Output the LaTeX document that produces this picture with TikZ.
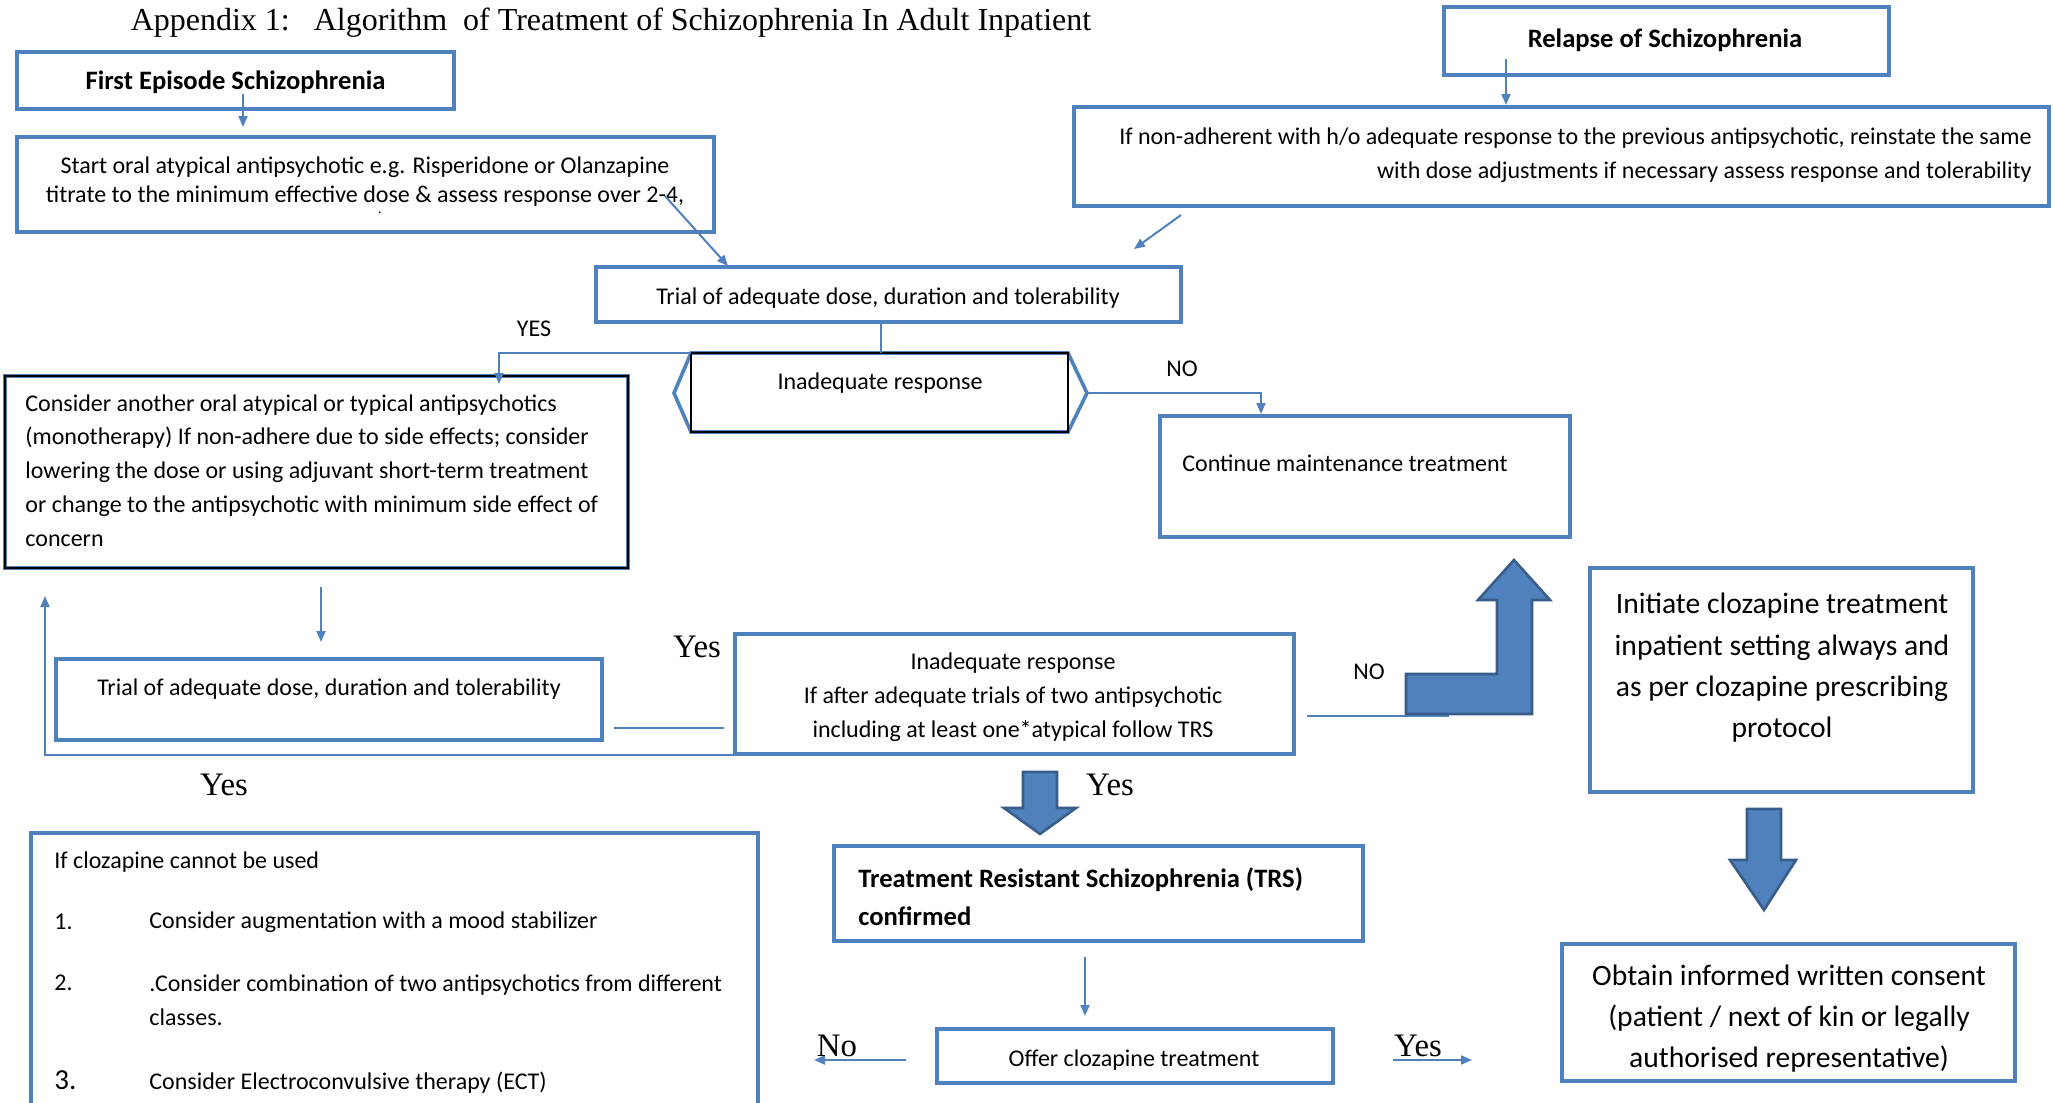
\documentclass[tikz,border=0pt]{standalone}
\usepackage{fontspec}
\setmainfont{Carlito}
\newfontfamily\tms{Liberation Serif}
\usetikzlibrary{arrows.meta,calc}
\definecolor{ob}{RGB}{79,129,189}
\definecolor{obd}{RGB}{56,93,138}
\newcommand\pbox[6]{\node[#2,anchor=north west,minimum width={(#5-#3)*0.5pt},minimum height={(#6-#4)*0.5pt}] (#1) at (#3,#4) {};}
\begin{document}
\begin{tikzpicture}[x=0.5pt,y=-0.5pt,
  bbox/.style={draw=ob,line width=2.3pt,inner sep=0pt,outer sep=0pt},
  kbox/.style={draw=black,line width=1.2pt,inner sep=0pt,outer sep=0pt},
  conn/.style={draw=ob,line width=1pt},
  arr/.style={conn,-{Triangle[length=5.5pt,width=4.5pt]}},
  lab/.style={inner sep=0pt,yshift=-1pt,font=\fontsize{12}{14}\selectfont},
  bld/.style={inner sep=0pt,yshift=-1pt,font=\bfseries\fontsize{13.3}{19}\selectfont},
  big/.style={inner sep=0pt,yshift=-1pt,font=\fontsize{14.8}{20.7}\selectfont,align=center},
  tlab/.style={inner sep=0pt,yshift=-1pt,font=\tms\fontsize{16.4}{18}\selectfont},
  slab/.style={inner sep=0pt,yshift=-1pt,font=\fontsize{12}{14}\selectfont},
  barrow/.style={fill=ob,draw=obd,line width=1.3pt}]
\useasboundingbox[fill=white] (0,0) rectangle (2053,1103);

\node[inner sep=0pt,yshift=-1.5pt,font=\tms\fontsize{16}{18}\selectfont] (title) at (611,20) {Appendix 1:\ \ \ Algorithm\ \ of Treatment of Schizophrenia In Adult Inpatient};

% top left
\pbox{first}{bbox}{17}{52}{454}{109}
\node[bld] (first-t) at (first.center) {First Episode Schizophrenia};
\pbox{start}{bbox}{17}{137}{714}{232}
\node[lab,align=center,font=\fontsize{12}{14.5}\selectfont] (start-t) at (365,180) {Start oral atypical antipsychotic e.g. Risperidone or Olanzapine\\titrate to the minimum effective dose \& assess response over 2-4,};
\node[inner sep=0pt,font=\fontsize{7}{8}\selectfont] (start-dot) at (380,213) {.};

% top right
\pbox{relapse}{bbox}{1444}{7}{1889}{75}
\node[bld] (relapse-t) at (1665,38) {Relapse of Schizophrenia};
\pbox{nonadh}{bbox}{1074}{107}{2049}{206}
\node[lab,align=right,anchor=east,font=\fontsize{12}{17}\selectfont] (nonadh-t) at (2032,153) {If non-adherent with h/o adequate response to the previous antipsychotic, reinstate the same\\with dose adjustments if necessary assess response and tolerability};

% trial 1
\pbox{trial1}{bbox}{596}{267}{1181}{322}
\node[lab] (trial1-t) at (888,296) {Trial of adequate dose, duration and tolerability};

% inadequate response 1 (hexagon + black rectangle)
\draw[ob,line width=1.8pt,line join=miter] (691,353) -- (1068,353) -- (1087,393) -- (1068,432) -- (691,432) -- (674,393) -- cycle;
\pbox{inad1}{kbox}{691}{353}{1068}{432}
\node[lab] (inad1-t) at (880,381) {Inadequate response};

% continue
\pbox{cont}{bbox}{1160}{416}{1570}{537}
\node[lab,anchor=west] (cont-t) at (1182,461) {Continue maintenance treatment};

% consider box
\draw[ob,line width=2pt] (5,376) rectangle (628,568);
\pbox{consider}{kbox}{5}{376}{628}{568}
\node[lab,align=left,anchor=west,font=\fontsize{12}{16.9}\selectfont] (consider-t) at (25,468.5) {Consider another oral atypical or typical antipsychotics\\(monotherapy) If non-adhere due to side effects; consider\\lowering the dose or using adjuvant short-term treatment\\or change to the antipsychotic with minimum side effect of\\concern};

% trial 2
\pbox{trial2}{bbox}{56}{659}{602}{740}
\node[lab] (trial2-t) at (329,687) {Trial of adequate dose, duration and tolerability};

% inadequate 2
\pbox{inad2}{bbox}{735}{634}{1294}{754}
\node[lab,align=center,font=\fontsize{12}{17}\selectfont] (inad2-t) at (1013,695) {Inadequate response\\If after adequate trials of two antipsychotic\\including at least one*atypical follow TRS};

% initiate
\pbox{initiate}{bbox}{1590}{568}{1973}{792}
\node[big] (initiate-t) at (1782,666) {Initiate clozapine treatment\\inpatient setting always and\\as per clozapine prescribing\\protocol};

% consent
\pbox{consent}{bbox}{1562}{944}{2015}{1081}
\node[big] (consent-t) at (1789,1016.5) {Obtain informed written consent\\(patient / next of kin or legally\\authorised representative)};

% TRS
\pbox{trs}{bbox}{834}{846}{1363}{941}
\node[bld,align=left,anchor=west] (trs-t) at (858,895) {Treatment Resistant Schizophrenia (TRS)\\confirmed};

% offer
\pbox{offer}{bbox}{937}{1029}{1333}{1083}
\node[lab] (offer-t) at (1134,1058) {Offer clozapine treatment};

% clozapine cannot be used (open at bottom)
\pbox{cloz}{inner sep=0pt}{31}{833}{757}{1110}
\draw[ob,line width=2.3pt] (cloz.south west) -- (cloz.north west) -- (cloz.north east) -- (cloz.south east);
\node[lab,anchor=west] (cloz-t) at (54,860) {If clozapine cannot be used};
\node[lab,anchor=west] (n1) at (54,920) {1.};
\node[lab,anchor=west] (i1) at (149,920) {Consider augmentation with a mood stabilizer};
\node[lab,anchor=west] (n2) at (54,981) {2.};
\node[lab,anchor=west,align=left,font=\fontsize{12}{17}\selectfont] (i2) at (149,998) {.Consider combination of two antipsychotics from different\\classes.};
\node[inner sep=0pt,anchor=west,font=\fontsize{14.5}{15}\selectfont] (n3) at (54,1080) {3.};
\node[lab,anchor=west] (i3) at (149,1081) {Consider Electroconvulsive therapy (ECT)};

% connectors
\draw[arr] ($(first.south)+(7.5,-15)$) -- ($(first.south)+(7.5,18)$);
\draw[arr] ($(relapse.south)+(-160.5,-16)$) -- ($(relapse.south)+(-160.5,30)$);
\draw[arr] ($(start.south east)+(-49,-36)$) -- ($(trial1.north west)+(132,-1)$);
\draw[arr] ($(nonadh.south west)+(107,9)$) -- ($(trial1.north east)+(-47,-18)$);
\draw[conn] ($(trial1.south)+(-7.5,0)$) -- ($(inad1.north)+(1.5,0)$);
\draw[arr] (inad1.north west) -- ($(inad1.north west)+(-192,0)$) -- ($(consider.north west)+(494,8)$);
\draw[arr] ($(inad1.east)+(19,0)$) -| ($(cont.north west)+(101,-2)$);
\draw[arr] ($(consider.south west)+(316,19)$) -- ($(trial2.north west)+(265,-17)$);
\draw[conn] ($(trial2.south east)+(12,-12)$) -- ($(inad2.south west)+(-11,-26)$);
\draw[arr] ($(inad2.south west)+(0,1)$) -| ($(trial2.north west)+(-11,-63)$);
\draw[conn] ($(inad2.east)+(13,22)$) -- ($(inad2.east)+(155,22)$);
\draw[arr] ($(trs.south)+(-13.5,16)$) -- ($(offer.north)+(-50,-13)$);
\draw[arr] ($(offer.west)+(-31,4)$) -- ($(offer.west)+(-123,4)$);
\draw[arr] ($(offer.east)+(60,4)$) -- ($(offer.east)+(139,4)$);

% big block arrows
\draw[barrow,line join=miter] (1406,714) -- (1532,714) -- (1532,600) -- (1550,600) -- (1514,560) -- (1478,600) -- (1497,600) -- (1497,674) -- (1406,674) -- cycle;
\draw[barrow,line join=miter] (1023,772) -- (1057,772) -- (1057,808) -- (1076,808) -- (1040,834) -- (1004,808) -- (1023,808) -- cycle;
\draw[barrow,line join=miter] (1747,809) -- (1781,809) -- (1781,860) -- (1796,860) -- (1764,910) -- (1730,860) -- (1747,860) -- cycle;

% labels
\node[slab] (yes1) at (534,327) {YES};
\node[slab] (no1) at (1182,367) {NO};
\node[slab] (no2) at (1369,670) {NO};
\node[tlab] (yes2) at (697,645) {Yes};
\node[tlab] (yes3) at (224,783) {Yes};
\node[tlab] (yes4) at (1110,783) {Yes};
\node[tlab] (no3) at (837,1044) {No};
\node[tlab] (yes5) at (1418,1044) {Yes};
\end{tikzpicture}
\end{document}
